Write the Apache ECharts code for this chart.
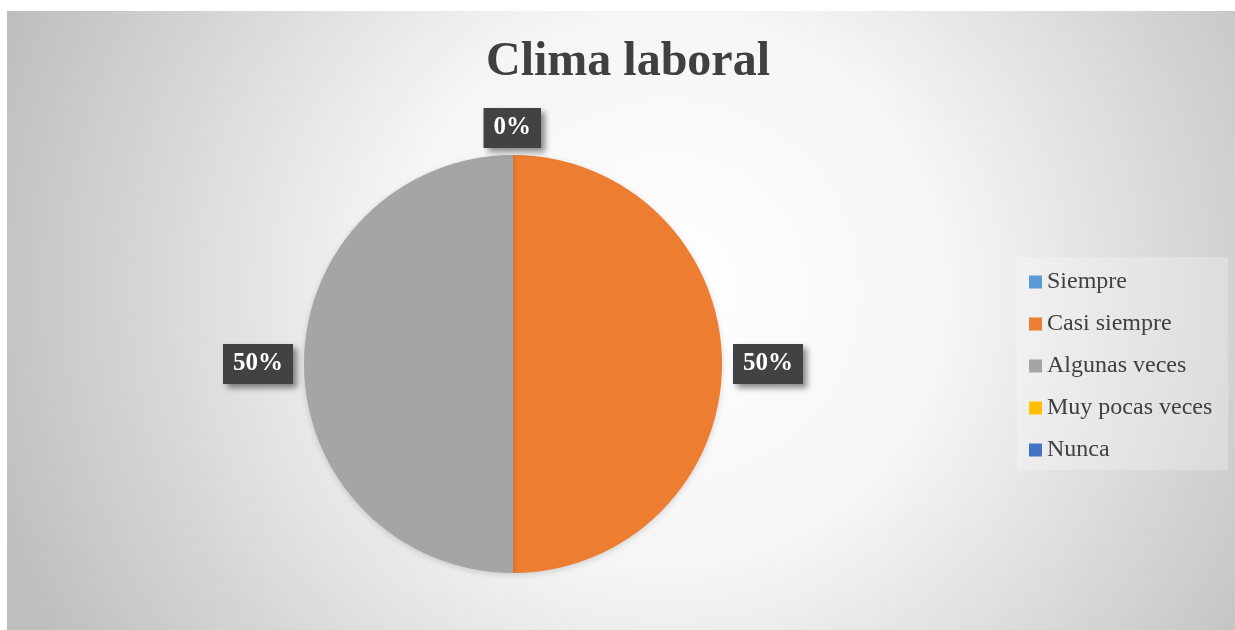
<!DOCTYPE html>
<html>
<head>
<meta charset="utf-8">
<script src="https://cdn.jsdelivr.net/npm/echarts@6/dist/echarts.min.js"></script>
<style>
  html, body { margin: 0; padding: 0; background: #ffffff; }
  #chart { position: absolute; left: 7px; top: 11px; width: 1228px; height: 619px; }
</style>
</head>
<body>
<div id="chart"></div>
<script>
const titleText = 'Clima laboral';
const categories = ['Siempre', 'Casi siempre', 'Algunas veces', 'Muy pocas veces', 'Nunca'];
const values = [0, 1, 1, 0, 0];
const colors = ['#5b9bd5', '#ed7d31', '#a5a5a5', '#ffc000', '#4472c4'];

const total = values.reduce((a, b) => a + b, 0);

const chart = echarts.init(document.getElementById('chart'), null, { renderer: 'canvas' });

const data = categories.map((name, i) => ({
  name: name,
  value: values[i],
  itemStyle: { color: colors[i] },
  label: { show: values[i] > 0 || i === 0 }
}));

chart.setOption({
  backgroundColor: {
    type: 'radial', x: 0.54, y: 0.45, r: 1.15,
    colorStops: [
      { offset: 0, color: '#ffffff' },
      { offset: 0.4, color: '#f5f5f5' },
      { offset: 1, color: '#bebebe' }
    ]
  },
  title: {
    text: titleText,
    left: 474, top: 23,
    textStyle: { fontFamily: 'Liberation Serif', fontWeight: 'bold', fontSize: 48, color: '#404040' }
  },
  legend: {
    orient: 'vertical',
    left: 1010, top: 246,
    padding: [13, 16, 8, 12],
    backgroundColor: 'rgba(255,255,255,0.25)',
    itemWidth: 13, itemHeight: 13, itemGap: 18,
    icon: 'rect',
    data: categories,
    textStyle: { fontFamily: 'Liberation Serif', fontSize: 24, lineHeight: 24, color: '#404040' }
  },
  series: [{
    type: 'pie',
    center: [506, 353],
    radius: [0, 209],
    startAngle: 90,
    clockwise: true,
    avoidLabelOverlap: false,
    stillShowZeroSum: true,
    data: data,
    itemStyle: { borderWidth: 0, shadowBlur: 6, shadowColor: 'rgba(0,0,0,0.15)', shadowOffsetY: 2 },
    label: {
      position: 'outside',
      formatter: p => Math.round(p.value / total * 100) + '%',
      fontFamily: 'Liberation Serif', fontWeight: 'bold', fontSize: 25, lineHeight: 28,
      color: '#ffffff',
      backgroundColor: '#424242',
      padding: [6, 10, 6, 10],
      shadowBlur: 6, shadowOffsetX: 4, shadowOffsetY: 4, shadowColor: 'rgba(0,0,0,0.45)'
    },
    labelLine: { show: false, length: 6, length2: 0 },
    labelLayout: function (p) {
      if (p.dataIndex === 0) {
        return { dx: 33, dy: -21 };
      }
      return {};
    },
    emphasis: { disabled: true }
  }]
});
</script>
</body>
</html>
